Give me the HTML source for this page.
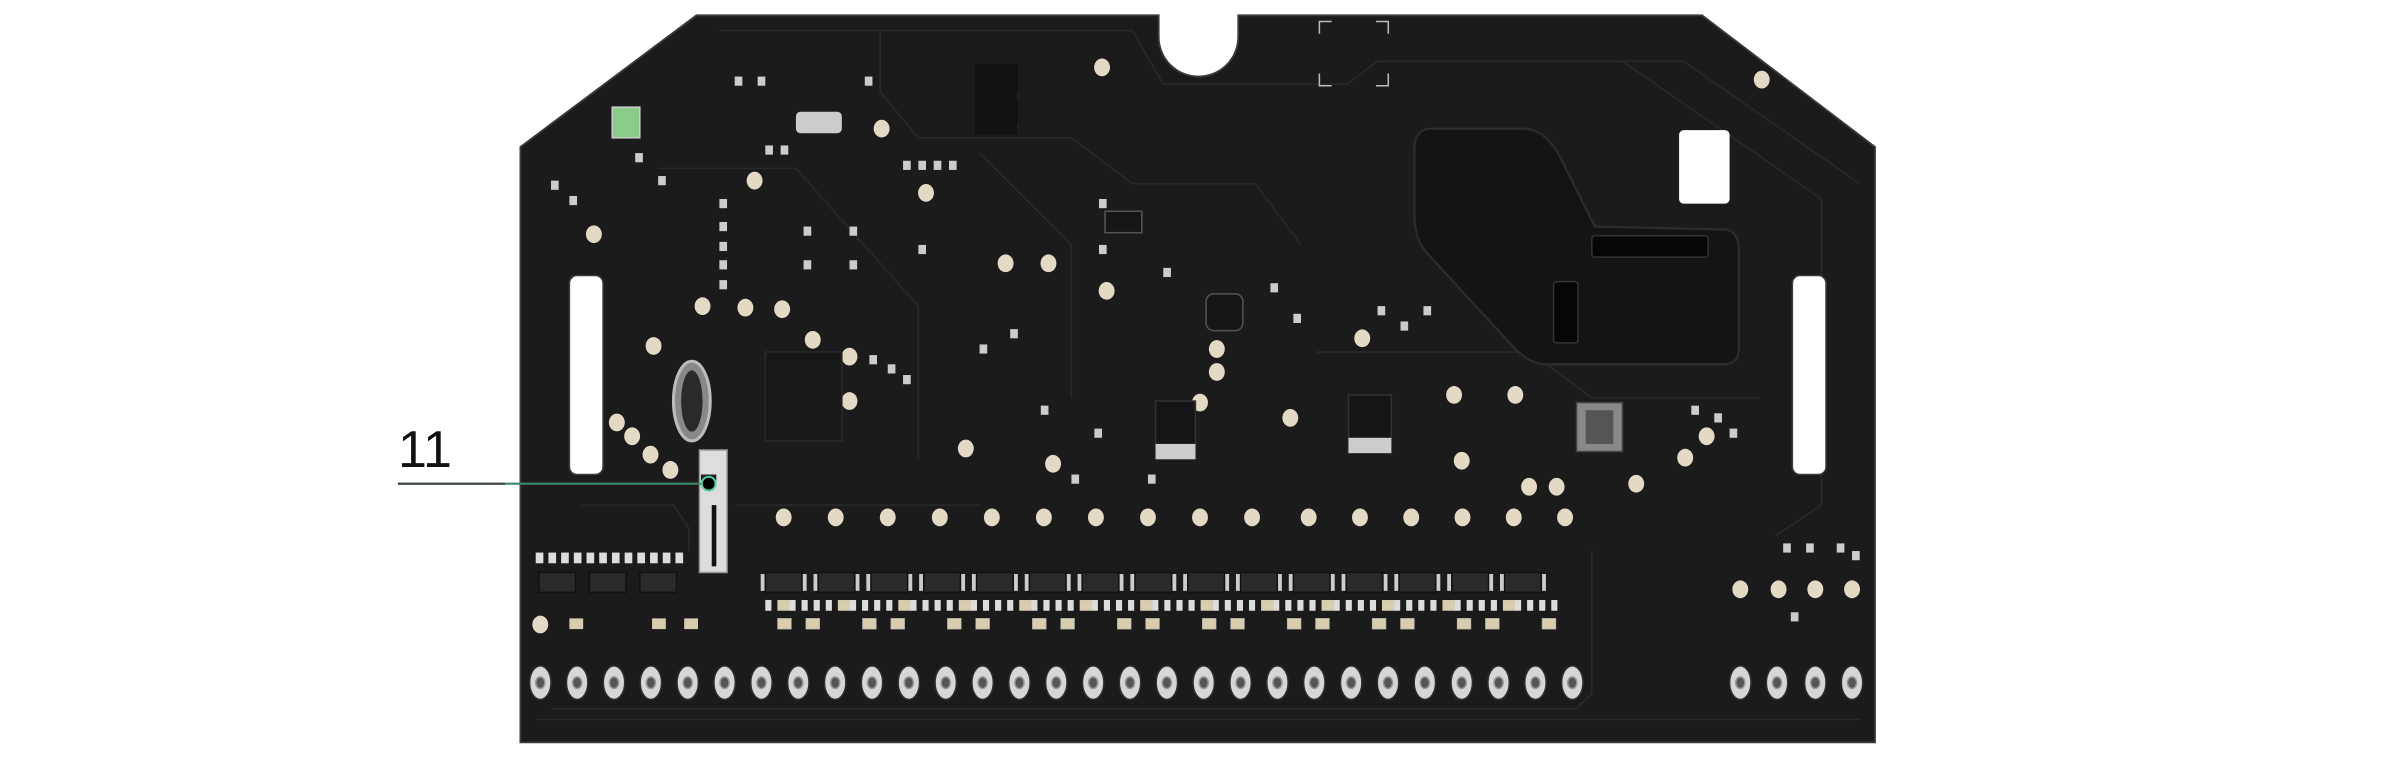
<!DOCTYPE html>
<html><head><meta charset="utf-8"><style>
html,body{margin:0;padding:0;background:#fff;}
svg{display:block;}
</style></head><body>
<svg id="s" width="2400" height="760" viewBox="0 0 1568 496.5" xmlns="http://www.w3.org/2000/svg">
<rect width="1568" height="496.5" fill="#fff"/>
<path d="M455,10 L757,10 L757,24 A26,26 0 0 0 809,24 L809,10 L1112,10 L1225,96 L1225,485 L340,485 L340,96 Z" fill="#1b1b1b" stroke="#3a3a3a" stroke-width="1.2"/>
<g fill="none" stroke="#2a2a2a" stroke-width="1">
<path d="M350,470 L1215,470"/><path d="M360,463 L1030,463 L1040,453 L1040,360"/>
<path d="M470,20 L740,20 L760,55 L880,55 L900,40 L1100,40 L1215,120"/>
<path d="M575,20 L575,60 L600,90 L700,90 L740,120 L820,120 L850,160"/>
<path d="M430,110 L520,110 L600,200 L600,300"/><path d="M640,100 L700,160 L700,260"/>
<path d="M930,40 L1060,40 L1190,130 L1190,330 L1160,350"/>
<path d="M480,330 L640,330"/><path d="M380,330 L440,330 L450,345 L450,360"/>
<path d="M860,230 L1000,230 L1040,260 L1150,260"/>
</g>
<path d="M935,84 L995,84 Q1010,84 1020,104 L1042,148 L1128,150 Q1136,152 1136,162 L1136,228 Q1136,238 1126,238 L1010,238 Q1000,238 990,228 L932,165 Q924,156 924,140 L924,98 Q924,84 935,84 Z" fill="#141414" stroke="#2c2c2c" stroke-width="1.5"/>
<rect x="1040" y="154" width="76" height="14" rx="2" fill="#060606" stroke="#333"/>
<rect x="1015" y="184" width="16" height="40" rx="2" fill="#060606" stroke="#333"/>
<rect x="372" y="180" width="22" height="130" rx="5" fill="#fff" stroke="#3a3a3a"/>
<rect x="1171" y="180" width="22" height="130" rx="5" fill="#fff" stroke="#3a3a3a"/>
<rect x="1097" y="85" width="33" height="48" rx="3" fill="#fff"/>
<path d="M862,22 L862,14 L870,14 M899,14 L907,14 L907,22 M862,48 L862,56 L870,56 M899,56 L907,56 L907,48" stroke="#bbb" fill="none" stroke-width="1"/>
<g id="dyn"></g>
<ellipse cx="452" cy="262" rx="12" ry="26" fill="#888" stroke="#bbb" stroke-width="2"/>
<ellipse cx="452" cy="262" rx="7" ry="20" fill="#2a2a2a"/>
<rect x="500" y="230" width="50" height="58" fill="#171717" stroke="#2a2a2a"/>
<rect x="637" y="42" width="28" height="46" fill="#111"/>
<rect x="755" y="262" width="26" height="38" fill="#151515" stroke="#333"/>
<rect x="755" y="290" width="26" height="10" fill="#ccc"/>
<rect x="881" y="258" width="28" height="38" fill="#151515" stroke="#333"/>
<rect x="881" y="286" width="28" height="10" fill="#ccc"/>
<rect x="1030" y="263" width="30" height="32" fill="#888" stroke="#444"/>
<rect x="1036" y="268" width="18" height="22" fill="#555"/>
<rect x="788" y="192" width="24" height="24" rx="5" fill="#151515" stroke="#555"/>
<rect x="722" y="138" width="24" height="14" fill="#151515" stroke="#555"/>
<rect x="400" y="70" width="18" height="20" fill="#8c8" stroke="#ccc"/>
<rect x="520" y="73" width="30" height="14" rx="3" fill="#ccc"/>
<rect x="457" y="294" width="18" height="80" fill="#ddd" stroke="#999"/>
<rect x="465" y="330" width="3" height="40" fill="#111"/>
<rect x="458" y="310" width="10" height="4" fill="#222"/>
<line x1="260" y1="316" x2="463" y2="316" stroke="#3b8a6a" stroke-width="1.4"/>
<line x1="260" y1="316" x2="330" y2="316" stroke="#444" stroke-width="1.4"/>
<circle cx="463" cy="316" r="4.5" fill="#000" stroke="#4fd19a" stroke-width="1.3"/>
<text x="260" y="305" font-family="Liberation Sans, sans-serif" font-size="34" fill="#111">11</text>
</svg>
<script>
var g=document.getElementById('dyn'),h='';
function add(s){h+=s;}
var tx=[];for(var i=0;i<29;i++)tx.push(353+i*24.08);tx=tx.concat([1137,1161,1186,1210]);
tx.forEach(function(x){add('<ellipse cx="'+x+'" cy="446" rx="7" ry="11" fill="#d6d6d6" stroke="#2e2e2e"/><ellipse cx="'+x+'" cy="446" rx="3" ry="3.8" fill="#555" stroke="#999"/>');});
var p=[[388,153],[493,118],[576,84],[720,44],[605,126],[657,172],[427,226],[459,200],[487,201],[511,202],[531,222],[555,233],[403,276],[413,285],[425,297],[438,307],[631,293],[688,303],[795,228],[795,243],[843,273],[890,221],[955,301],[1069,316],[1101,299],[1151,52],[353,408],[1137,385],[1162,385],[1186,385],[1210,385],[685,172],[723,190],[784,263],[950,258],[990,258],[1115,285],[555,262],[1017,318],[999,318]];
for(var i=0;i<10;i++)p.push([512+i*34,338]);for(var i=0;i<6;i++)p.push([855+i*33.5,338]);
p.forEach(function(c){add('<ellipse cx="'+c[0]+'" cy="'+c[1]+'" rx="5.2" ry="5.8" fill="#e4d9c4"/>');});
for(var i=0;i<15;i++){var x=500+i*34.5;add('<rect x="'+x+'" y="374" width="24" height="13" fill="#2a2a2a" stroke="#111"/><rect x="'+(x-3)+'" y="375" width="2.5" height="11" fill="#ccc"/><rect x="'+(x+24.5)+'" y="375" width="2.5" height="11" fill="#ccc"/>');}
for(var i=0;i<3;i++){var x=352+i*33;add('<rect x="'+x+'" y="374" width="24" height="13" fill="#2a2a2a" stroke="#111"/>');}
for(var i=0;i<12;i++)add('<rect x="'+(350+i*8.3)+'" y="361" width="5" height="7" fill="#ddd"/>');
for(var i=0;i<66;i++){var x=500+i*7.9;var c=(i%5==1)?'#d9cdb0':'#ddd';add('<rect x="'+x+'" y="392" width="'+(i%5==1?8:4)+'" height="7" fill="'+c+'"/>');}
for(var i=0;i<28;i++){if(i%3==2)continue;var x=508+i*18.5;add('<rect x="'+x+'" y="404" width="9" height="7" fill="#d9cdb0" stroke="#aaa" stroke-width=".4"/>');}
[[372,404],[426,404],[447,404]].forEach(function(c){add('<rect x="'+c[0]+'" y="'+c[1]+'" width="9" height="7" fill="#d9cdb0"/>');});
var sm=[[360,118],[372,128],[415,100],[430,115],[470,130],[470,145],[470,158],[470,170],[470,183],[525,148],[555,148],[525,170],[555,170],[568,232],[580,238],[590,245],[600,160],[640,225],[660,215],[680,265],[715,280],[718,130],[718,160],[760,175],[830,185],[845,205],[900,200],[915,210],[930,200],[700,310],[750,310],[1105,265],[1120,270],[1130,280],[1165,355],[1180,355],[1200,355],[1210,360],[1170,400],[500,95],[510,95],[590,105],[600,105],[610,105],[620,105],[480,50],[495,50],[565,50],[660,60],[660,80]];
sm.forEach(function(c){add('<rect x="'+c[0]+'" y="'+c[1]+'" width="5" height="6" fill="#ccc"/>');});
g.innerHTML=h;
</script>
</body></html>
